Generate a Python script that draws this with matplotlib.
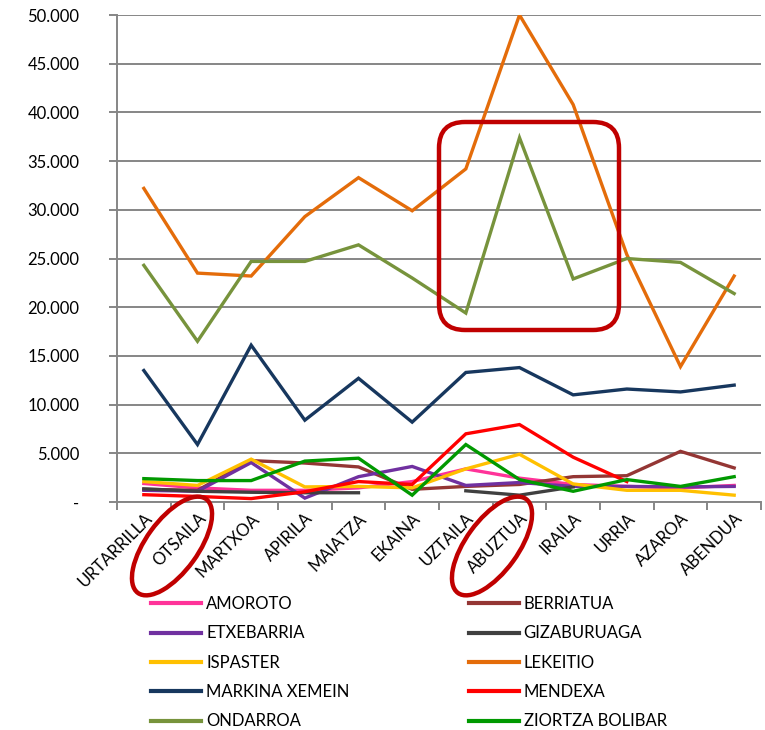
import numpy as np
import matplotlib
matplotlib.use('Agg')
import matplotlib.pyplot as plt
from matplotlib.patches import Ellipse, FancyBboxPatch
from matplotlib.lines import Line2D
from matplotlib.transforms import IdentityTransform

plt.rcParams['font.family'] = ['Lato', 'DejaVu Sans']

months = ['URTARRILLA', 'OTSAILA', 'MARTXOA', 'APIRILA', 'MAIATZA', 'EKAINA',
          'UZTAILA', 'ABUZTUA', 'IRAILA', 'URRIA', 'AZAROA', 'ABENDUA']

nan = np.nan
amoroto     = [1900, 1450, 1200, 1200, 1450, 2100, 3400, 2450, 1800, 1600, 1450, 1700]
berriatua   = [1300, 1200, 4250, 4000, 3600, 1300, 1600, 1800, 2600, 2700, 5200, 3500]
etxebarria  = [1200, 1100, 4050, 400, 2600, 3650, 1700, 2000, 1600, 1600, 1550, 1600]
gizaburuaga = [1350, 1100, 1000, 950, 950, nan, 1150, 700, 1550, nan, nan, nan]
ispaster    = [2100, 1700, 4400, 1550, 1600, 1450, 3400, 4900, 1850, 1200, 1200, 700]
lekeitio    = [32200, 23500, 23200, 29300, 33300, 29900, 34200, 50000, 40800, 25400, 13900, 23200]
markina     = [13500, 5900, 16100, 8400, 12700, 8200, 13300, 13800, 11000, 11600, 11300, 12000]
mendexa     = [750, 570, 350, 1050, 2100, 1800, 7000, 7950, 4600, 2100, nan, nan]
ondarroa    = [24300, 16500, 24700, 24700, 26400, 23000, 19400, 37400, 22900, 25000, 24600, 21400]
ziortza     = [2400, 2200, 2200, 4200, 4500, 700, 5900, 2300, 1100, 2300, 1600, 2600]

series = [
    ('AMOROTO', amoroto, '#FF3399'),
    ('BERRIATUA', berriatua, '#943634'),
    ('ETXEBARRIA', etxebarria, '#7030A0'),
    ('GIZABURUAGA', gizaburuaga, '#404040'),
    ('ISPASTER', ispaster, '#FFC000'),
    ('LEKEITIO', lekeitio, '#E46C0A'),
    ('MARKINA XEMEIN', markina, '#17375E'),
    ('MENDEXA', mendexa, '#FF0000'),
    ('ONDARROA', ondarroa, '#77933C'),
    ('ZIORTZA BOLIBAR', ziortza, '#009900'),
]

W, H = 765, 730
fig = plt.figure(figsize=(W / 100, H / 100), dpi=100)
ax = fig.add_axes([117 / W, 1 - 502 / H, (761 - 117) / W, (502 - 15) / H])

x = np.arange(len(months))
for name, vals, color in series:
    ax.plot(x, vals, color=color, linewidth=2.4, solid_joinstyle='miter', zorder=3)

ax.set_xlim(-0.5, len(months) - 0.5)
ax.set_ylim(0, 50000)
yt = np.arange(0, 50001, 5000)
ax.set_yticks(yt)
ax.set_yticklabels(['-'] + [f'{v:,.0f}'.replace(',', '.') for v in yt[1:]],
                   fontsize=12)
ax.yaxis.grid(True, color='#868686', linewidth=1.4, zorder=1)
ax.tick_params(axis='y', length=6, width=1.4, color='#868686', pad=21)

ax.set_xticks(x)
ax.set_xticklabels(months, rotation=45, ha='right', rotation_mode='anchor', fontsize=12)
ax.set_xticks(np.arange(-0.5, len(months)), minor=True)
ax.tick_params(axis='x', which='major', length=0, pad=6)
ax.tick_params(axis='x', which='minor', length=6, width=1.4, color='#868686')

for s in ['top', 'right']:
    ax.spines[s].set_visible(False)
for s in ['left', 'bottom']:
    ax.spines[s].set_color('#868686')
    ax.spines[s].set_linewidth(1.4)

# legend: two columns, column-major ordering
handles = [Line2D([], [], color=c, linewidth=3) for _, _, c in series]
labels = [n for n, _, _ in series]
order = [0, 2, 4, 6, 8, 1, 3, 5, 7, 9]
fig.legend([handles[i] for i in order], [labels[i] for i in order],
           ncol=2, loc='upper left', bbox_to_anchor=(136 / W, 1 - 581 / H),
           frameon=False, fontsize=12, handlelength=3.0, handletextpad=0.3,
           columnspacing=7.15, labelspacing=0.8)

# red annotation shapes
red = '#C00000'
box = FancyBboxPatch((447, H - 322), 164, 192,
                     boxstyle='round,pad=8,rounding_size=26',
                     transform=IdentityTransform(), fill=False,
                     edgecolor=red, linewidth=3.2, zorder=5)
fig.patches.append(box)
for cx, cy in [(172, 546), (492, 546)]:
    e = Ellipse((cx, H - cy), 116, 52, angle=54, transform=IdentityTransform(),
                fill=False, edgecolor=red, linewidth=3.2, zorder=5)
    fig.patches.append(e)

fig.savefig('out.png', dpi=100)
